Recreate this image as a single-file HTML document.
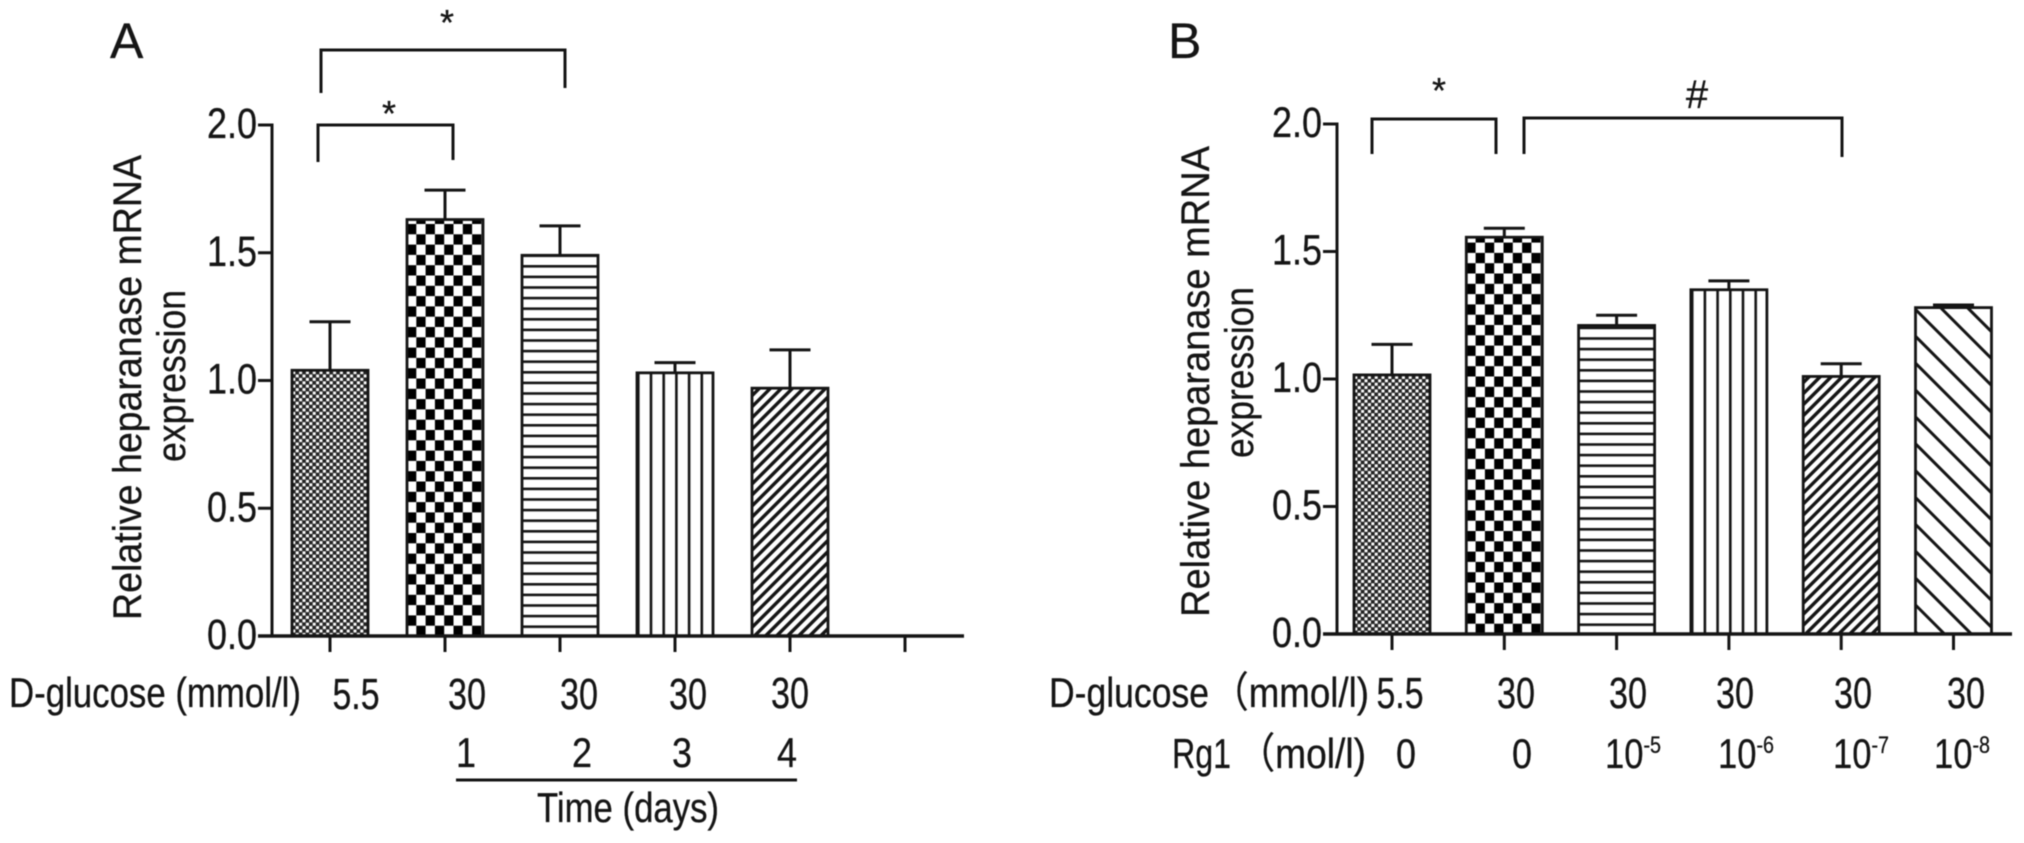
<!DOCTYPE html>
<html lang="en">
<head>
<meta charset="utf-8">
<title>Relative heparanase mRNA expression</title>
<style>
html,body{margin:0;padding:0;background:#fff;width:2024px;height:843px;overflow:hidden}
svg{display:block;filter:blur(.5px)}
text{font-family:"Liberation Sans","Noto Sans CJK SC",sans-serif;fill:#151515;stroke:#151515;stroke-width:.3px}
.tick{font-size:43px}
.lab{font-size:42px}
.val{font-size:44px}
.title{font-size:40px}
.ln{stroke:#151515;stroke-width:3;fill:none}
</style>
</head>
<body>
<svg id="fig" xmlns="http://www.w3.org/2000/svg" width="2024" height="843" viewBox="0 0 2024 843">
<defs>
<pattern id="p-fine" patternUnits="userSpaceOnUse" width="6.8" height="6.8"><rect width="6.8" height="6.8" fill="#222"/><rect x="0.3" y="0.3" width="3" height="3" fill="#fff"/><rect x="3.7" y="3.7" width="3" height="3" fill="#fff"/></pattern>
<pattern id="p-check" patternUnits="userSpaceOnUse" width="18.6" height="20.6"><rect width="18.6" height="20.6" fill="#fff"/><rect x="0" y="0" width="9.3" height="10.3" fill="#000"/><rect x="9.3" y="10.3" width="9.3" height="10.3" fill="#000"/></pattern>
<pattern id="p-horiz" patternUnits="userSpaceOnUse" width="10" height="10.6"><rect width="10" height="10.6" fill="#fff"/><rect y="0" width="10" height="2.6" fill="#151515"/></pattern>
<pattern id="p-vert" patternUnits="userSpaceOnUse" width="12.7" height="10"><rect width="12.7" height="10" fill="#fff"/><rect x="0" width="2.6" height="10" fill="#151515"/></pattern>
<pattern id="p-diag" patternUnits="userSpaceOnUse" width="7.8" height="8" patternTransform="rotate(45)"><rect width="7.8" height="8" fill="#fff"/><rect width="3.4" height="8" fill="#151515"/></pattern>
<pattern id="p-back" patternUnits="userSpaceOnUse" width="19" height="19" patternTransform="rotate(-45)"><rect width="19" height="19" fill="#fff"/><rect width="3" height="19" fill="#151515"/></pattern>
</defs>

<rect width="2024" height="843" fill="#fff"/>

<g id="panel-a">
<text x="110" y="58" font-size="50">A</text>
<text class="title" transform="translate(141,620) rotate(-90)" textLength="465" lengthAdjust="spacingAndGlyphs">Relative heparanase mRNA</text>
<text class="title" transform="translate(185,462) rotate(-90)" textLength="172" lengthAdjust="spacingAndGlyphs">expression</text>
<path class="ln" d="M321 93V50H565V88"/>
<path class="ln" d="M318 162V125H453V160"/>
<text x="447" y="35" font-size="36" text-anchor="middle">*</text>
<text x="389" y="126" font-size="36" text-anchor="middle">*</text>
<text x="9" y="707" class="lab" textLength="292" lengthAdjust="spacingAndGlyphs">D-glucose (mmol/l)</text>
<g class="val" text-anchor="middle">
<text x="356" y="709" textLength="47" lengthAdjust="spacingAndGlyphs">5.5</text>
<text x="467" y="709" textLength="38" lengthAdjust="spacingAndGlyphs">30</text>
<text x="579" y="709" textLength="38" lengthAdjust="spacingAndGlyphs">30</text>
<text x="688" y="709" textLength="38" lengthAdjust="spacingAndGlyphs">30</text>
<text x="790" y="708" textLength="38" lengthAdjust="spacingAndGlyphs">30</text>
</g>
<g class="lab" text-anchor="middle">
<text x="466" y="767" textLength="20" lengthAdjust="spacingAndGlyphs">1</text>
<text x="582" y="767" textLength="20" lengthAdjust="spacingAndGlyphs">2</text>
<text x="682" y="767" textLength="20" lengthAdjust="spacingAndGlyphs">3</text>
<text x="787" y="767" textLength="20" lengthAdjust="spacingAndGlyphs">4</text>
</g>
<path class="ln" d="M456 780H797"/>
<text x="628" y="822" class="lab" text-anchor="middle" textLength="182" lengthAdjust="spacingAndGlyphs">Time (days)</text>
</g>

<g id="panel-b">
<text x="1168" y="58" font-size="50">B</text>
<text class="title" transform="translate(1209,617) rotate(-90)" textLength="471" lengthAdjust="spacingAndGlyphs">Relative heparanase mRNA</text>
<text class="title" transform="translate(1253,458) rotate(-90)" textLength="171" lengthAdjust="spacingAndGlyphs">expression</text>
<path class="ln" d="M1372 154V119H1496V154"/>
<path class="ln" d="M1524 154V118H1842V157"/>
<text x="1439" y="103" font-size="36" text-anchor="middle">*</text>
<text x="1697" y="108" font-size="40" text-anchor="middle">#</text>
<text x="1049" y="707" class="lab" textLength="160" lengthAdjust="spacingAndGlyphs">D-glucose</text>
<text x="1212" y="707" class="lab" textLength="157" lengthAdjust="spacingAndGlyphs">（mmol/l)</text>
<g class="val" text-anchor="middle">
<text x="1400" y="708" textLength="47" lengthAdjust="spacingAndGlyphs">5.5</text>
<text x="1516" y="708" textLength="38" lengthAdjust="spacingAndGlyphs">30</text>
<text x="1628" y="708" textLength="38" lengthAdjust="spacingAndGlyphs">30</text>
<text x="1735" y="708" textLength="38" lengthAdjust="spacingAndGlyphs">30</text>
<text x="1853" y="708" textLength="38" lengthAdjust="spacingAndGlyphs">30</text>
<text x="1966" y="708" textLength="38" lengthAdjust="spacingAndGlyphs">30</text>
</g>
<text x="1172" y="768" class="lab" textLength="59" lengthAdjust="spacingAndGlyphs">Rg1</text>
<text x="1238" y="768" class="lab" textLength="128" lengthAdjust="spacingAndGlyphs">（mol/l)</text>
<g class="lab" text-anchor="middle">
<text x="1406" y="768" textLength="20" lengthAdjust="spacingAndGlyphs">0</text>
<text x="1522" y="768" textLength="20" lengthAdjust="spacingAndGlyphs">0</text>
<text x="1633" y="768" textLength="56" lengthAdjust="spacingAndGlyphs">10<tspan font-size="24" dy="-15">-5</tspan></text>
<text x="1746" y="768" textLength="56" lengthAdjust="spacingAndGlyphs">10<tspan font-size="24" dy="-15">-6</tspan></text>
<text x="1861" y="768" textLength="56" lengthAdjust="spacingAndGlyphs">10<tspan font-size="24" dy="-15">-7</tspan></text>
<text x="1962" y="768" textLength="56" lengthAdjust="spacingAndGlyphs">10<tspan font-size="24" dy="-15">-8</tspan></text>
</g>
</g>
</svg>

<script>
// Panel A data
const aCategories = ['5.5 mM', '30 mM day 1', '30 mM day 2', '30 mM day 3', '30 mM day 4', ''];
const aValues = [1.04, 1.63, 1.49, 1.03, 0.97];
const aErrors = [0.19, 0.115, 0.115, 0.04, 0.15];
// Panel B data
const bCategories = ['5.5 mM, Rg1 0', '30 mM, Rg1 0', 'Rg1 1e-5', 'Rg1 1e-6', 'Rg1 1e-7', 'Rg1 1e-8'];
const bValues = [1.016, 1.556, 1.21, 1.35, 1.01, 1.28];
const bErrors = [0.12, 0.035, 0.04, 0.035, 0.05, 0.01];
// Shared axis tick labels
const yTickLabels = ['0.0', '0.5', '1.0', '1.5', '2.0'];

const SVGNS = 'http://www.w3.org/2000/svg';
const patternIds = ['p-fine', 'p-check', 'p-horiz', 'p-vert', 'p-diag', 'p-back'];

function mk(parent, tag, attrs) {
  const el = document.createElementNS(SVGNS, tag);
  for (const k in attrs) el.setAttribute(k, attrs[k]);
  parent.appendChild(el);
  return el;
}

function drawPanel(parentId, prefix, cats, vals, errs, geom) {
  const parent = document.getElementById(parentId);
  const xScale = i => geom.x0 + i * geom.step;
  const yScale = v => geom.y0 - v * geom.unit;
  const barWidth = 76;

  vals.forEach((v, i) => {
    const bar = mk(parent, 'g', { transform: 'translate(' + (xScale(i) - barWidth / 2) + ',' + geom.y0 + ')' });
    
    
    const h = geom.y0 - yScale(v);
    mk(bar, 'rect', { x: 0, y: -h, width: barWidth, height: h, fill: 'url(#' + patternIds[i] + ')', stroke: '#151515', 'stroke-width': 2.8 });
    const top = geom.y0 - yScale(v + errs[i]);
    const err = mk(bar, 'path', { d: 'M' + barWidth / 2 + ' ' + (-h) + 'V' + (-top) + 'M' + (barWidth / 2 - 20.5) + ' ' + (-top) + 'h41', stroke: '#151515', 'stroke-width': 3, fill: 'none' });
    
    
  });

  const yAxis = mk(parent, 'line', { x1: geom.axisX, x2: geom.axisX, y1: yScale(2) - 1.5, y2: yScale(0) + 1.5, stroke: '#151515', 'stroke-width': 3 });
  
  

  const xAxis = mk(parent, 'line', { x1: geom.axisX - 14, x2: geom.xEnd, y1: yScale(0), y2: yScale(0), stroke: '#151515', 'stroke-width': 3.4 });
  
  

  yTickLabels.forEach(label => {
    const v = parseFloat(label);
    const y = yScale(v);
    const mark = mk(parent, 'line', { x1: geom.axisX - 14, x2: geom.axisX, y1: y, y2: y, stroke: '#151515', 'stroke-width': 3 });
    
    
    const t = mk(parent, 'text', { x: geom.axisX - 65, y: y + 13, class: 'tick', textLength: 50, lengthAdjust: 'spacingAndGlyphs' });
    t.textContent = label;
    
    
  });

  cats.forEach((c, i) => {
    const x = xScale(i);
    const mark = mk(parent, 'line', { x1: x, x2: x, y1: yScale(0), y2: yScale(0) + 16, stroke: '#151515', 'stroke-width': 3 });
    
    
  });
}

drawPanel('panel-a', 'a', aCategories, aValues, aErrors, { x0: 330, step: 115, y0: 636, unit: 255.5, axisX: 272, xEnd: 964 });
drawPanel('panel-b', 'b', bCategories, bValues, bErrors, { x0: 1392, step: 112.3, y0: 634, unit: 255, axisX: 1337, xEnd: 2012 });
</script>
</body>
</html>
